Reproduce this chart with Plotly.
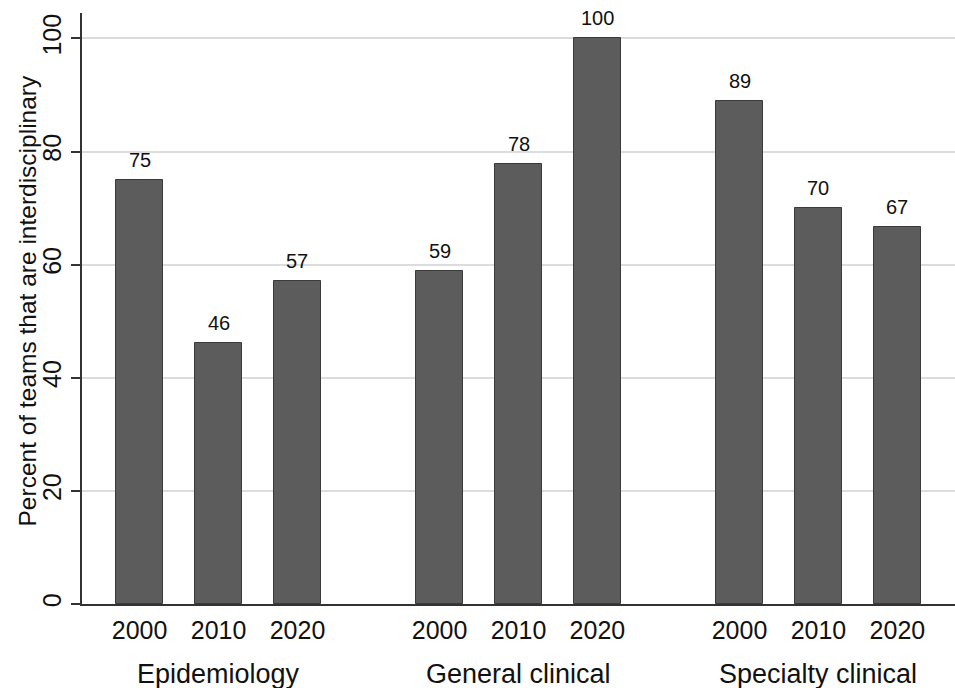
import plotly.graph_objects as go

groups = ["Epidemiology", "General clinical", "Specialty clinical"]
years = ["2000", "2010", "2020"]
values = [75.0, 46.2, 57.1, 58.8, 77.8, 100.0, 88.9, 70.0, 66.7]
positions = [0, 1, 2, 3.8, 4.8, 5.8, 7.6, 8.6, 9.6]
year_labels = years * 3
group_centers = [1, 4.8, 8.6]
y_ticks = [0, 20, 40, 60, 80, 100]

font = "Liberation Sans, Arial, sans-serif"

fig = go.Figure()
fig.add_trace(go.Bar(
    x=positions, y=values, width=0.6,
    marker=dict(color="#5c5c5c", line=dict(color="#3a3a3a", width=1)),
    showlegend=False, hoverinfo="y",
))

for x, v in zip(positions, values):
    fig.add_annotation(x=x, y=v, xref="x", yref="y", text=f"{v:.0f}", showarrow=False,
                       yanchor="bottom", yshift=7, font=dict(family=font, size=20, color="#111"))

for gx, g in zip(group_centers, groups):
    fig.add_annotation(x=gx, y=0, xref="x", yref="y", text=g, showarrow=False,
                       yanchor="middle", yshift=-70, font=dict(family=font, size=27, color="#111"))

fig.add_annotation(x=0, y=0.5, xref="paper", yref="paper", xshift=-55, yshift=7,
                   text="Percent of teams that are interdisciplinary", textangle=-90,
                   showarrow=False, xanchor="center", yanchor="middle",
                   font=dict(family=font, size=24.5, color="#111"))

fig.update_layout(
    width=955, height=688,
    margin=dict(l=82, r=0, t=13, b=84),
    paper_bgcolor="white", plot_bgcolor="white",
    font=dict(family=font, color="#111"),
    xaxis=dict(range=[-0.73, 10.33], tickmode="array", tickvals=positions, ticktext=year_labels,
               showgrid=False, zeroline=False, showline=True, linecolor="#333", linewidth=2,
               ticks="", automargin=False, ticklabelstandoff=3,
               tickfont=dict(family=font, size=25, color="#111")),
    yaxis=dict(range=[0, 104.5], tickmode="array", tickvals=y_ticks, tickangle=-90,
               showgrid=True, gridcolor="#dcdcdc", gridwidth=1.5, zeroline=False,
               showline=True, linecolor="#333", linewidth=2, ticks="outside", ticklen=9,
               tickcolor="#333", tickwidth=2, automargin=False,
               tickfont=dict(family=font, size=25, color="#111")),
    bargap=0,
)
fig.write_html("out.html", config={"displayModeBar": False},
               post_script="document.body.style.margin='0';")
